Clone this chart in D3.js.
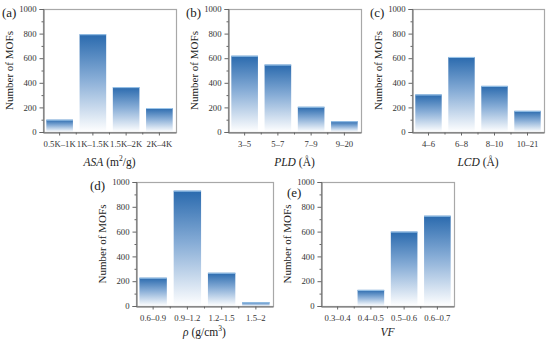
<!DOCTYPE html>
<html>
<head>
<meta charset="utf-8">
<script src="https://cdn.jsdelivr.net/npm/d3@7"></script>
<style>
  body { margin: 0; background: #fff; }
  svg { display: block; font-family: "Liberation Serif", "Times New Roman", serif; }
</style>
</head>
<body>
<svg width="550" height="340"></svg>
<script>
const asaCats = ['0.5K–1K', '1K–1.5K', '1.5K–2K', '2K–4K'];
const asaVals = [100, 795, 365, 195];
const pldCats = ['3–5', '5–7', '7–9', '9–20'];
const pldVals = [620, 548, 205, 88];
const lcdCats = ['4–6', '6–8', '8–10', '10–21'];
const lcdVals = [305, 610, 375, 172];
const rhoCats = ['0.6–0.9', '0.9–1.2', '1.2–1.5', '1.5–2'];
const rhoVals = [228, 930, 268, 30];
const vfCats = ['0.3–0.4', '0.4–0.5', '0.5–0.6', '0.6–0.7'];
const vfVals = [0, 130, 600, 728];
const yTicks = [0, 200, 400, 600, 800, 1000];

const svg = d3.select('svg');

const defs = svg.append('defs');
const grad = defs.append('linearGradient')
  .attr('id', 'barGrad')
  .attr('x1', 0).attr('y1', 0).attr('x2', 0).attr('y2', 1);
grad.append('stop').attr('offset', '0%').attr('stop-color', '#2a6aae');
grad.append('stop').attr('offset', '45%').attr('stop-color', '#86acd6');
grad.append('stop').attr('offset', '100%').attr('stop-color', '#ffffff');

const panels = [
  { label: '(a)', lx: 2, ly: 16.5, cats: asaCats, vals: asaVals, x0: 43, x1: 176, y0: 9, y1: 132, tOff: 34, title: [['ASA', true], [' (m', false], ['2', false, true], ['/g)', false]] },
  { label: '(b)', lx: 186, ly: 16.5, cats: pldCats, vals: pldVals, x0: 228, x1: 361, y0: 9, y1: 132, tOff: 34, title: [['PLD', true], [' (Å)', false]] },
  { label: '(c)', lx: 370, ly: 17, cats: lcdCats, vals: lcdVals, x0: 412, x1: 544, y0: 9, y1: 132, tOff: 34, title: [['LCD', true], [' (Å)', false]] },
  { label: '(d)', lx: 90, ly: 190, cats: rhoCats, vals: rhoVals, x0: 136, x1: 273, y0: 182, y1: 306, tOff: 29.5, title: [['ρ', true], [' (g/cm', false], ['3', false, true], [')', false]] },
  { label: '(e)', lx: 287, ly: 197, cats: vfCats, vals: vfVals, x0: 321, x1: 454, y0: 182, y1: 306, tOff: 29.5, title: [['VF', true]] }
];

panels.forEach(p => {
  const g = svg.append('g');

  const x = d3.scaleBand()
    .domain(p.cats)
    .range([p.x0, p.x1])
    .paddingInner(0.2)
    .paddingOuter(0.1);

  const y = d3.scaleLinear()
    .domain([0, 1000])
    .range([p.y1, p.y0]);

  const rows = p.cats.map((c, i) => ({ c, v: p.vals[i] })).filter(d => d.v > 0);

  // bars
  g.selectAll('.bar')
    .data(rows)
    .enter()
    .append('rect')
      .attr('x', d => x(d.c))
      .attr('y', d => y(d.v))
      .attr('width', x.bandwidth())
      .attr('height', d => y(0) - y(d.v))
      .attr('fill', 'url(#barGrad)');

  g.selectAll('.bartop')
    .data(rows)
    .enter()
    .append('line')
      .attr('x1', d => x(d.c))
      .attr('x2', d => x(d.c) + x.bandwidth())
      .attr('y1', d => y(d.v) + 0.5)
      .attr('y2', d => y(d.v) + 0.5)
      .attr('stroke', '#9cc6ea')
      .attr('stroke-width', 1);

  // frame
  g.append('rect')
    .attr('x', p.x0 + 0.5)
    .attr('y', p.y0 + 0.5)
    .attr('width', p.x1 - p.x0)
    .attr('height', p.y1 - p.y0)
    .attr('fill', 'none')
    .attr('stroke', '#a8a8a8')
    .attr('stroke-width', 1.2);

  // y axis
  const yAxis = g.append('g')
    .attr('transform', `translate(${p.x0 + 0.5},0)`)
    .call(d3.axisLeft(y).tickValues(yTicks).tickFormat(d3.format('d')).tickSize(4).tickPadding(3));
  yAxis.select('.domain').attr('stroke', '#666');
  yAxis.selectAll('.tick line').attr('stroke', '#666');
  yAxis.selectAll('text')
    .attr('font-family', 'Liberation Serif')
    .attr('font-size', 8.7)
    .attr('fill', '#333');
  yAxis.selectAll('.minor')
    .data(d3.range(100, 1000, 200))
    .enter()
    .append('line')
      .attr('x1', -2).attr('x2', 0)
      .attr('y1', d => y(d) + 0.5).attr('y2', d => y(d) + 0.5)
      .attr('stroke', '#666');

  // x axis
  const xAxis = g.append('g')
    .attr('transform', `translate(0,${p.y1 + 0.5})`)
    .call(d3.axisBottom(x).tickSize(3).tickSizeOuter(0).tickPadding(5));
  xAxis.select('.domain').attr('stroke', '#666');
  xAxis.selectAll('.tick line').attr('stroke', '#666');
  xAxis.selectAll('text')
    .attr('font-family', 'Liberation Serif')
    .attr('font-size', 8.7)
    .attr('fill', '#333');
  xAxis.selectAll('.minor')
    .data(p.cats.slice(1))
    .enter()
    .append('line')
      .attr('x1', d => x(d) - x.step() * x.paddingInner() / 2)
      .attr('x2', d => x(d) - x.step() * x.paddingInner() / 2)
      .attr('y1', 0).attr('y2', 2)
      .attr('stroke', '#666');

  // y title
  g.append('text')
    .attr('transform', `translate(${p.x0 - 30},${(p.y0 + p.y1) / 2}) rotate(-90)`)
    .attr('text-anchor', 'middle')
    .attr('font-size', 11)
    .attr('fill', '#222')
    .text('Number of MOFs');

  // x title
  const xt = g.append('text')
    .attr('x', (p.x0 + p.x1) / 2)
    .attr('y', p.y1 + p.tOff)
    .attr('text-anchor', 'middle')
    .attr('font-size', 11.5)
    .attr('fill', '#222');
  let raised = false;
  p.title.forEach(([t, it, sup]) => {
    const ts = xt.append('tspan').text(t);
    if (it) ts.attr('font-style', 'italic');
    if (sup) {
      ts.attr('font-size', 7.5).attr('dy', -5);
      raised = true;
    } else if (raised) {
      ts.attr('dy', 5);
      raised = false;
    }
  });

  // panel label
  g.append('text')
    .attr('x', p.lx)
    .attr('y', p.ly)
    .attr('font-size', 13)
    .attr('fill', '#222')
    .text(p.label);
});
</script>
</body>
</html>
